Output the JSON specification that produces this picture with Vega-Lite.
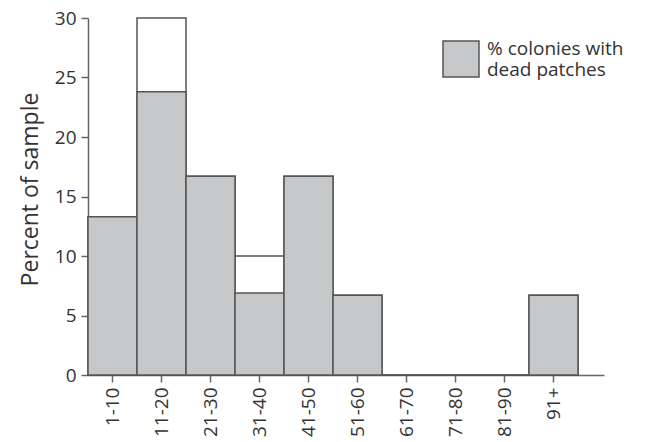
{
  "$schema": "https://vega.github.io/schema/vega-lite/v6.json",
  "width": 516,
  "height": 357,
  "autosize": "none",
  "padding": {"left": 88, "top": 18, "right": 43, "bottom": 67},
  "background": "white",
  "config": {
    "view": {"stroke": null},
    "font": "Open Sans",
    "axis": {"grid": false, "zindex": 1, "domainColor": "#666", "tickColor": "#666", "labelColor": "#333", "titleColor": "#333", "domainWidth": 1.5, "tickWidth": 1.5}
  },
  "data": {
    "values": [
      {"range": "1-10", "total": 13.3, "dead": 13.3, "series": "dead"},
      {"range": "11-20", "total": 30, "dead": 23.8, "series": "dead"},
      {"range": "21-30", "total": 16.7, "dead": 16.7, "series": "dead"},
      {"range": "31-40", "total": 10, "dead": 6.9, "series": "dead"},
      {"range": "41-50", "total": 16.7, "dead": 16.7, "series": "dead"},
      {"range": "51-60", "total": 6.7, "dead": 6.7, "series": "dead"},
      {"range": "61-70", "total": 0, "dead": 0, "series": "dead"},
      {"range": "71-80", "total": 0, "dead": 0, "series": "dead"},
      {"range": "81-90", "total": 0, "dead": 0, "series": "dead"},
      {"range": "91+", "total": 6.7, "dead": 6.7, "series": "dead"}
    ]
  },
  "encoding": {
    "x": {
      "field": "range",
      "type": "nominal",
      "sort": null,
      "scale": {"paddingInner": 0, "paddingOuter": 0.265, "align": 0},
      "axis": {"title": null, "labelAngle": -90, "labelAlign": "right", "labelBaseline": "middle", "labelFontSize": 19, "tickSize": 7, "labelPadding": 5}
    }
  },
  "layer": [
    {
      "mark": {"type": "bar", "fill": "white", "stroke": "#555", "strokeWidth": 1.5},
      "encoding": {
        "y": {
          "field": "total",
          "type": "quantitative",
          "scale": {"domain": [0, 30], "nice": false},
          "axis": {"title": "Percent of sample", "titleFontSize": 23, "titleFontWeight": "normal", "titlePadding": 12, "titleY": 171, "labelFontSize": 19, "tickSize": 7, "labelPadding": 5, "values": [0, 5, 10, 15, 20, 25, 30]}
        }
      }
    },
    {
      "mark": {"type": "bar", "stroke": "#555", "strokeWidth": 1.5},
      "encoding": {
        "y": {"field": "dead", "type": "quantitative"},
        "color": {
          "field": "series",
          "type": "nominal",
          "scale": {"domain": ["dead"], "range": ["#c6c7c9"]},
          "legend": {
            "title": null,
            "orient": "none",
            "legendX": 354,
            "legendY": 22,
            "symbolType": "square",
            "symbolSize": 1296,
            "symbolStrokeColor": "#555",
            "symbolStrokeWidth": 1.5,
            "symbolFillColor": "#c6c7c9",
            "labelFontSize": 19,
            "labelColor": "#333",
            "labelLimit": 300,
            "labelOffset": 7,
            "labelBaseline": "bottom",
            "labelExpr": "['% colonies with', 'dead patches']"
          }
        }
      }
    }
  ]
}
